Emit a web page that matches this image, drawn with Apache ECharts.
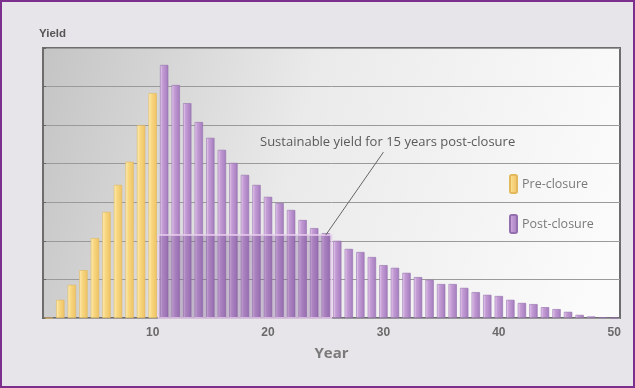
<!DOCTYPE html>
<html>
<head>
<meta charset="utf-8">
<script src="https://cdn.jsdelivr.net/npm/echarts@6/dist/echarts.min.js"></script>
<style>
  body { margin: 0; background: #e8e5ea; }
  #wrap { position: relative; width: 635px; height: 388px; }
  #chart { width: 635px; height: 388px; }
  #frame { position: absolute; left: 0; top: 0; width: 635px; height: 388px;
           box-sizing: border-box; border: 2px solid #7d2f8e; pointer-events: none; }
</style>
</head>
<body>
<div id="wrap">
  <div id="chart"></div>
  <div id="frame"></div>
</div>
<script>
// years 1..50
const years = []
for (let y = 1; y <= 50; y++) years.push(String(y))

// yield before closure (years 1-10)
const preClosure = [0, 0.47, 0.86, 1.24, 2.07, 2.75, 3.45, 4.05, 5.0, 5.83]
// yield after closure (years 11-50)
const postClosure = [6.56, 6.04, 5.57, 5.08, 4.67, 4.36, 4.02, 3.71, 3.45, 3.14,
  2.98, 2.80, 2.54, 2.33, 2.2, 2.0, 1.79, 1.71, 1.58, 1.37,
  1.30, 1.17, 1.06, 0.99, 0.88, 0.88, 0.78, 0.67, 0.60, 0.57,
  0.47, 0.39, 0.36, 0.28, 0.23, 0.16, 0.08, 0.04, 0.02, 0]

const sustainableYield = 2.15
const sustainableFrom = '11'
const sustainableTo = '25'
const annotation = 'Sustainable yield for 15 years post-closure'

const preData = years.map((y, i) => (i < preClosure.length ? preClosure[i] : '-'))
const postData = years.map((y, i) => (i < preClosure.length ? '-' : postClosure[i - preClosure.length]))

const chart = echarts.init(document.getElementById('chart'))

const yellow = new echarts.graphic.LinearGradient(0, 0, 1, 0, [
  { offset: 0, color: '#fff0bf' },
  { offset: 0.35, color: '#f8d882' },
  { offset: 1, color: '#efc264' }
])
const purple = new echarts.graphic.LinearGradient(0, 0, 1, 0, [
  { offset: 0, color: '#efd6f4' },
  { offset: 0.3, color: '#c59ed6' },
  { offset: 1, color: '#a47bbd' }
])

const option = {
  backgroundColor: '#e8e5ea',
  animation: false,
  grid: {
    left: 43, right: 15, top: 48, bottom: 70,
    show: true,
    borderColor: '#6d6d6d',
    borderWidth: 2,
    backgroundColor: new echarts.graphic.LinearGradient(0, 0, 1, 0.5, [
      { offset: 0, color: '#c4c4c4' },
      { offset: 0.45, color: '#eaeaea' },
      { offset: 1, color: '#fbfbfb' }
    ])
  },
  legend: {
    orient: 'vertical',
    left: 504, top: 169,
    itemGap: 20,
    itemWidth: 7, itemHeight: 18,
    icon: 'roundRect',
    textStyle: { color: '#7a7a7a', fontSize: 12.5, fontFamily: 'Open Sans' },
    data: ['Pre-closure', 'Post-closure']
  },
  xAxis: {
    type: 'category',
    data: years,
    name: 'Year',
    nameLocation: 'middle',
    nameGap: 28,
    nameTextStyle: { color: '#7a7a7a', fontSize: 15, fontWeight: 'bold', fontFamily: 'Open Sans' },
    axisLine: { show: false },
    axisTick: { show: false },
    axisLabel: {
      interval: 0,
      color: '#6a6a6a',
      fontSize: 12,
      fontWeight: 'bold',
      margin: 9,
      formatter: v => (Number(v) % 10 === 0 ? v : '')
    }
  },
  yAxis: {
    type: 'value',
    min: 0, max: 7, interval: 1,
    name: 'Yield',
    nameLocation: 'end',
    nameGap: 8,
    nameTextStyle: { color: '#555', fontSize: 11.5, fontWeight: 'bold', align: 'left', padding: [0, 0, 0, -4] },
    axisLabel: { show: false },
    axisTick: { show: true, inside: true, length: 3, lineStyle: { color: '#666' } },
    axisLine: { show: true, lineStyle: { color: '#6d6d6d', width: 2 } },
    splitLine: { lineStyle: { color: '#9a9a9a', width: 1 } }
  },
  graphic: [{
    type: 'text',
    left: 260, top: 136,
    style: { text: annotation, fill: '#5a5a5a', fontSize: 13, fontFamily: 'Open Sans' }
  }],
  series: [
    {
      name: 'Pre-closure',
      type: 'bar',
      data: preData,
      barWidth: '72%',
      barGap: '-100%',
      itemStyle: { color: yellow, borderColor: '#e3b85a', borderWidth: 0.6 }
    },
    {
      name: 'Post-closure',
      type: 'bar',
      data: postData,
      barWidth: '72%',
      itemStyle: { color: purple, borderColor: '#9370ad', borderWidth: 0.6 },
      markArea: {
        silent: true,
        z: 5,
        itemStyle: {
          color: 'rgba(110, 70, 140, 0.28)',
          borderColor: '#ead0f0',
          borderWidth: 1.5
        },
        data: [[
          { xAxis: sustainableFrom, yAxis: 0 },
          { xAxis: sustainableTo, yAxis: sustainableYield }
        ]]
      },
      markLine: {
        silent: true,
        symbol: 'none',
        label: { show: false },
        lineStyle: { color: '#666', width: 1, type: 'solid' },
        data: [[
          { coord: ['30', 4.3] },
          { coord: [sustainableTo, sustainableYield] }
        ]]
      }
    }
  ]
}

chart.setOption(option)
window.addEventListener('resize', function () {
  chart.resize()
})
</script>
</body>
</html>
